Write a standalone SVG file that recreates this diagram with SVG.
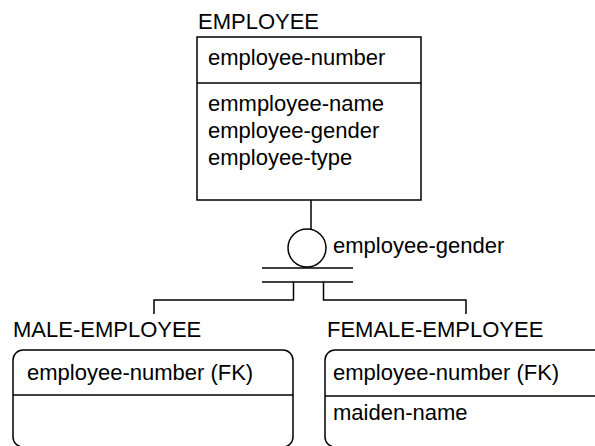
<svg xmlns="http://www.w3.org/2000/svg" width="595" height="446" viewBox="0 0 595 446">
<style>
text{font-family:"Liberation Sans",Arial,sans-serif;font-size:22px;fill:#000}
.ln{fill:none;stroke:#000;stroke-width:1.5}
</style>
<rect width="595" height="446" fill="#fff"/>
<g id="connectors">
<line class="ln" x1="311" y1="200" x2="311" y2="229"/>
<circle class="ln" cx="307" cy="248" r="19"/>
<line class="ln" x1="262" y1="268" x2="353" y2="268"/>
<line class="ln" x1="262" y1="282" x2="353" y2="282"/>
<polyline class="ln" points="293.5,282 293.5,300 154,300 154,314"/>
<polyline class="ln" points="323.5,282 323.5,300 466,300 466,314"/>
<text x="333" y="253">employee-gender</text>
</g>
<g id="employee">
<text x="198" y="29">EMPLOYEE</text>
<rect class="ln" x="197" y="37" width="224" height="163"/>
<line class="ln" x1="197" y1="83" x2="421" y2="83"/>
<text x="208" y="65">employee-number</text>
<text x="208" y="111">emmployee-name</text>
<text x="208" y="138">employee-gender</text>
<text x="208" y="165">employee-type</text>
</g>
<g id="male-employee">
<text x="13" y="337">MALE-EMPLOYEE</text>
<rect class="ln" x="13" y="350" width="280" height="97" rx="10"/>
<line class="ln" x1="13" y1="395" x2="293" y2="395"/>
<text x="27" y="380">employee-number (FK)</text>
</g>
<g id="female-employee">
<text x="327" y="337">FEMALE-EMPLOYEE</text>
<rect class="ln" x="325" y="350" width="300" height="97" rx="10"/>
<line class="ln" x1="325" y1="396" x2="595" y2="396"/>
<text x="333" y="380">employee-number (FK)</text>
<text x="333" y="420">maiden-name</text>
</g>
</svg>
